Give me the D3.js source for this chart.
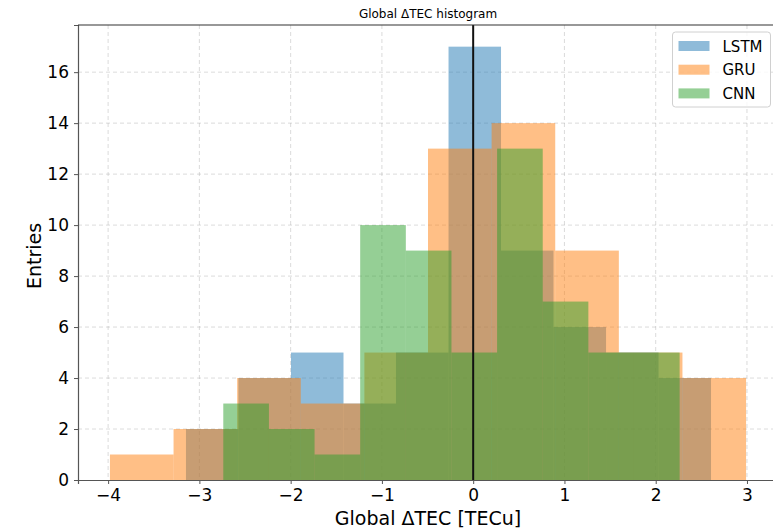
<!DOCTYPE html>
<html>
<head>
<meta charset="utf-8">
<script src="https://cdn.jsdelivr.net/npm/d3@7"></script>
<style>
    body { margin: 0; background: #fff; }
    text { font-family: "DejaVu Sans", sans-serif; fill: #000; }
</style>
</head>
<body>
<div id="chart"></div>
<script>
// Histogram bin edges (10 bins per model)
var lstmEdges = [-3.147, -2.572, -1.996, -1.421, -0.846, -0.270, 0.305, 0.880, 1.456, 2.031, 2.606];
var gruEdges  = [-3.980, -3.283, -2.586, -1.889, -1.192, -0.495, 0.202, 0.899, 1.596, 2.293, 2.990];
var cnnEdges  = [-2.738, -2.238, -1.738, -1.238, -0.738, -0.238, 0.262, 0.762, 1.262, 1.762, 2.262];

// Entries per bin
var lstmCounts = [2, 4, 5, 3, 5, 17, 9, 6, 5, 4];
var gruCounts  = [1, 2, 4, 3, 5, 13, 14, 9, 5, 4];
var cnnCounts  = [3, 2, 1, 10, 9, 5, 13, 7, 5, 5];

var seriesNames = ["LSTM", "GRU", "CNN"];
var seriesColors = ["#1f77b4", "#ff7f0e", "#2ca02c"];

var xTicks = [-4, -3, -2, -1, 0, 1, 2, 3];
var yTicks = [0, 2, 4, 6, 8, 10, 12, 14, 16];

function init() {
    var w = 773;
    var h = 530;

    // Plot area (right edge runs past the picture, as in the original)
    var left = 78, right = 778, top = 25, bottom = 480;

    var x = d3.scaleLinear().domain([-4.33, 3.34]).range([left, right]);
    var y = d3.scaleLinear().domain([0, 17.85]).range([bottom, top]);

    var svg = d3.select("#chart")
        .append("svg")
        .attr("width", w)
        .attr("height", h);

    // Dashed grid
    var grid = svg.append("g");
    grid.selectAll("line.gx")
        .data(xTicks)
        .enter()
        .append("line")
        .attr("x1", d => x(d)).attr("x2", d => x(d))
        .attr("y1", top).attr("y2", bottom)
        .style("stroke", "#b0b0b0")
        .style("stroke-opacity", 0.45)
        .style("stroke-dasharray", "4,3");
    grid.selectAll("line.gy")
        .data(yTicks.slice(1))
        .enter()
        .append("line")
        .attr("x1", left).attr("x2", right)
        .attr("y1", d => y(d)).attr("y2", d => y(d))
        .style("stroke", "#b0b0b0")
        .style("stroke-opacity", 0.45)
        .style("stroke-dasharray", "4,3");

    // Bars, drawn in order LSTM, GRU, CNN with alpha 0.5
    var series = [
        { edges: lstmEdges, counts: lstmCounts },
        { edges: gruEdges, counts: gruCounts },
        { edges: cnnEdges, counts: cnnCounts }
    ];

    series.forEach(function (s, k) {
        var bins = s.counts.map(function (c, i) {
            return { x0: s.edges[i], x1: s.edges[i + 1], n: c };
        });
        svg.append("g")
            .selectAll("rect")
            .data(bins)
            .enter()
            .append("rect")
            .attr("x", d => x(d.x0))
            .attr("width", d => x(d.x1) - x(d.x0))
            .attr("y", d => y(d.n))
            .attr("height", d => y(0) - y(d.n))
            .style("fill", seriesColors[k])
            .style("fill-opacity", 0.5);
    });

    // Vertical line at zero
    svg.append("line")
        .attr("x1", x(0)).attr("x2", x(0))
        .attr("y1", top).attr("y2", bottom)
        .style("stroke", "#111")
        .style("stroke-width", 2);

    // Axes
    var xAxis = svg.append("g")
        .attr("transform", "translate(0," + bottom + ")")
        .call(d3.axisBottom(x).tickValues(xTicks).tickSize(4).tickPadding(5)
            .tickFormat(d => d < 0 ? "\u2212" + Math.abs(d) : d));
    var yAxis = svg.append("g")
        .attr("transform", "translate(" + left + ",0)")
        .call(d3.axisLeft(y).tickValues(yTicks).tickSize(4).tickPadding(5));

    [xAxis, yAxis].forEach(function (a) {
        a.select(".domain").style("stroke", "#555").style("stroke-width", 1.2);
        a.selectAll(".tick line").style("stroke", "#555");
        a.selectAll(".tick text")
            .style("font-family", "DejaVu Sans")
            .style("font-size", "17px")
            .style("fill", "#000");
    });

    // Top spine
    svg.append("line")
        .attr("x1", left).attr("x2", right)
        .attr("y1", top).attr("y2", top)
        .style("stroke", "#333")
        .style("stroke-width", 1.2);

    // Title and labels
    svg.append("text")
        .attr("x", (left + right) / 2)
        .attr("y", 18)
        .attr("text-anchor", "middle")
        .style("font-size", "12px")
        .text("Global \u0394TEC histogram");

    svg.append("text")
        .attr("x", (left + right) / 2)
        .attr("y", 525)
        .attr("text-anchor", "middle")
        .style("font-size", "19px")
        .text("Global \u0394TEC [TECu]");

    svg.append("text")
        .attr("transform", "translate(41,256) rotate(-90)")
        .attr("text-anchor", "middle")
        .style("font-size", "19px")
        .text("Entries");

    // Legend
    var legend = svg.append("g").attr("transform", "translate(672.5,32)");
    legend.append("rect")
        .attr("width", 98)
        .attr("height", 75)
        .attr("rx", 3)
        .style("fill", "#fff")
        .style("fill-opacity", 0.8)
        .style("stroke", "#d0d0d0");

    seriesNames.forEach(function (name, i) {
        legend.append("rect")
            .attr("x", 6)
            .attr("y", 9 + i * 23.7)
            .attr("width", 31)
            .attr("height", 10)
            .style("fill", seriesColors[i])
            .style("fill-opacity", 0.5);
        legend.append("text")
            .attr("x", 50)
            .attr("y", 19.5 + i * 23.7)
            .style("font-size", "15px")
            .text(name);
    });
}

window.onload = init;
</script>
</body>
</html>
